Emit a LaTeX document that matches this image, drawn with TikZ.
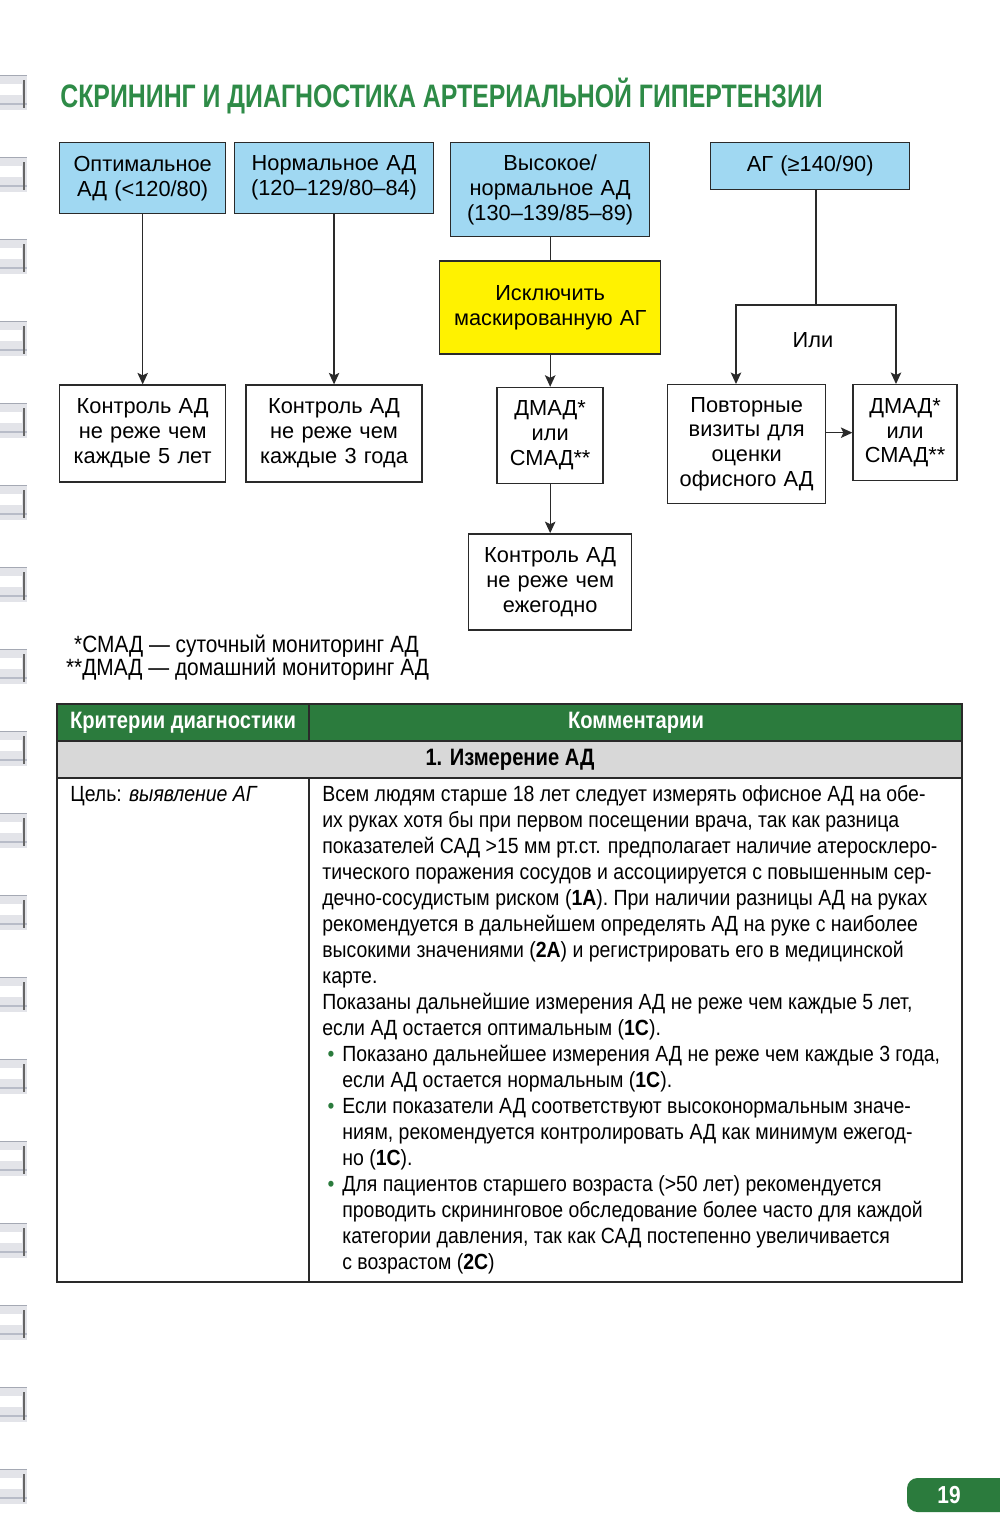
\documentclass[tikz,border=0pt]{standalone}
\usepackage{fontspec}
\setmainfont{Liberation Sans}
\newfontfamily\condfont[FakeStretch=0.886]{Liberation Sans}
\newfontfamily\headfont[FakeStretch=0.85]{Liberation Sans}
\newfontfamily\titlefont[FakeStretch=0.765]{Liberation Sans}
\usetikzlibrary{arrows.meta, positioning}
\definecolor{boxblue}{HTML}{A0D8F2}
\definecolor{boxyellow}{HTML}{FFF200}
\definecolor{titlegreen}{HTML}{2E8B47}
\definecolor{headgreen}{HTML}{2B7B3D}
\definecolor{rowgray}{HTML}{D8D8D8}
\definecolor{linegray}{HTML}{2A2A2A}
\definecolor{ringgray}{HTML}{B8BCC8}
\tikzstyle{block} = [rectangle, draw=linegray, line width=0.8pt, inner sep=0pt,
  align=center, font=\fontsize{12.4}{14.2}\selectfont]
\tikzstyle{bluebox} = [block, fill=boxblue]
\tikzstyle{yellowbox} = [block, fill=boxyellow]
\tikzstyle{whitebox} = [block, fill=white]
\tikzstyle{arrow} = [line width=0.75pt, draw=linegray, -{Stealth[length=2.3mm, width=2.1mm, inset=0.5mm]}]
\tikzstyle{line} = [line width=0.75pt, draw=linegray]
\tikzstyle{tabtext} = [inner sep=0pt, anchor=base west, font=\condfont\fontsize{12.5}{14.8}\selectfont]
\tikzstyle{tabhead} = [inner sep=0pt, font=\headfont\bfseries\fontsize{13.5}{14.8}\selectfont]
\newcommand{\bitem}{\hspace*{0.4cm}\llap{\textcolor{headgreen}{\textbullet}\hspace{0.16cm}}}
\newcommand{\bcont}{\hspace*{0.4cm}}

\begin{document}
\begin{tikzpicture}[x=0.02cm, y=-0.02cm]
    \useasboundingbox (0,0) rectangle (1000,1538);
    % binding rings
    \foreach \r in {0,...,17} {
      \fill[ringgray!40] (0,{75+82*\r}) rectangle (27,{110+82*\r});
      \fill[white] (0,{84+82*\r}) rectangle (22,{95+82*\r});
      \draw[ringgray!90!black, line width=0.5pt] (0,{75+82*\r}) -- (27,{75+82*\r});
      \draw[ringgray, line width=1.4pt] (0,{104+82*\r}) -- (27,{104+82*\r});
      \draw[gray!80!black, line width=0.6pt] (24,{80+82*\r}) -- (24,{108+82*\r});
    }
    \node[font=\titlefont\bfseries\fontsize{18.5}{20}\selectfont, text=titlegreen, inner sep=0pt,
      anchor=base west] (title) at (60,107) {СКРИНИНГ И ДИАГНОСТИКА АРТЕРИАЛЬНОЙ ГИПЕРТЕНЗИИ};

    % flowchart
    \node[bluebox, text width=3.32cm, minimum height=1.42cm, anchor=north west] (b1) at (59,142) {Оптимальное\\АД (<120/80)};
    \node[bluebox, text width=3.98cm, minimum height=1.42cm, right=0.15cm of b1.north east, anchor=north west] (b2) {Нормальное АД\\(120–129/80–84)};
    \node[bluebox, text width=3.98cm, minimum height=1.88cm, anchor=north west] (b3) at (450,142) {Высокое/\\нормальное АД\\(130–139/85–89)};
    \node[bluebox, text width=3.98cm, minimum height=0.94cm, anchor=north west] (b4) at (710,142) {АГ (≥140/90)};
    \node[yellowbox, text width=4.42cm, minimum height=1.86cm, below=0.46cm of b3] (y1) {Исключить\\маскированную АГ};
    \node[whitebox, text width=2.12cm, minimum height=1.92cm, below=0.64cm of y1] (d1) {ДМАД*\\или\\СМАД**};
    \node[whitebox, text width=3.26cm, minimum height=1.92cm, below=0.98cm of d1] (e1) {Контроль АД\\не реже чем\\ежегодно};
    \node[whitebox, text width=3.32cm, minimum height=1.94cm, below=3.4cm of b1] (c1) {Контроль АД\\не реже чем\\каждые 5 лет};
    \node[whitebox, text width=3.52cm, minimum height=1.94cm, below=3.4cm of b2] (c2) {Контроль АД\\не реже чем\\каждые 3 года};
    \node[whitebox, text width=3.16cm, minimum height=2.38cm, anchor=north west] (f1) at (667,384) {Повторные\\визиты для\\оценки\\офисного АД};
    \node[whitebox, text width=2.08cm, minimum height=1.92cm, right=0.52cm of f1.north east, anchor=north west] (f2) {ДМАД*\\или\\СМАД**};
    \node[font=\fontsize{12.4}{14.2}\selectfont, inner sep=0pt] (or) at (813,340) {Или};
    \coordinate (jn) at (816,305);
    \coordinate (jl) at (736,305);
    \coordinate (jr) at (896,305);

    \draw[arrow] (b1) -- (c1);
    \draw[arrow] (b2) -- (c2);
    \draw[line] (b3) -- (y1);
    \draw[arrow] (y1) -- (d1);
    \draw[arrow] (d1) -- (e1);
    \draw[line] (b4.south -| jn) -- (jn);
    \draw[arrow] (jn) -- (jl) -- (jl |- f1.north);
    \draw[arrow] (jn) -- (jr) -- (jr |- f2.north);
    \draw[arrow] (f1.east |- f2.west) -- (f2.west);

    % footnotes
    \node[tabtext, font=\condfont\fontsize{13.4}{14.8}\selectfont] (fn1) at (82,652) {\llap{*}СМАД — суточный мониторинг АД};
    \node[tabtext, font=\condfont\fontsize{13.4}{14.8}\selectfont] (fn2) at (82,675) {\llap{**}ДМАД — домашний мониторинг АД};

    % table
    \fill[headgreen] (57,704) rectangle (962,741);
    \fill[rowgray] (57,741) rectangle (962,778);
    \draw[linegray, line width=0.7pt] (57,704) rectangle (962,1282);
    \draw[linegray, line width=0.7pt] (57,741) -- (962,741);
    \draw[linegray, line width=0.7pt] (57,778) -- (962,778);
    \draw[linegray, line width=0.7pt] (309,704) -- (309,741);
    \draw[linegray, line width=0.7pt] (309,778) -- (309,1282);
    \node[tabhead, text=white] (h1) at (183,723) {Критерии диагностики};
    \node[tabhead, text=white] (h2) at (636,723) {Комментарии};
    \node[tabhead] (h3) at (510,760) {1. Измерение АД};
    \node[tabtext] (goal) at (70,801) {Цель: \textit{выявление АГ}};
    \foreach \txt [count=\i] in {
      {Всем людям старше 18 лет следует измерять офисное АД на обе-},
      {их руках хотя бы при первом посещении врача, так как разница},
      {показателей САД >15 мм рт.ст. предполагает наличие атеросклеро-},
      {тического поражения сосудов и ассоциируется с повышенным сер-},
      {дечно-сосудистым риском (\textbf{1A}). При наличии разницы АД на руках},
      {рекомендуется в дальнейшем определять АД на руке с наиболее},
      {высокими значениями (\textbf{2A}) и регистрировать его в медицинской},
      {карте.},
      {Показаны дальнейшие измерения АД не реже чем каждые 5 лет,},
      {если АД остается оптимальным (\textbf{1C}).},
      {\bitem Показано дальнейшее измерения АД не реже чем каждые 3 года,},
      {\bcont если АД остается нормальным (\textbf{1C}).},
      {\bitem Если показатели АД соответствуют высоконормальным значе-},
      {\bcont ниям, рекомендуется контролировать АД как минимум ежегод-},
      {\bcont но (\textbf{1C}).},
      {\bitem Для пациентов старшего возраста (>50 лет) рекомендуется},
      {\bcont проводить скрининговое обследование более часто для каждой},
      {\bcont категории давления, так как САД постепенно увеличивается},
      {\bcont с возрастом (\textbf{2C})}}
      \node[tabtext] (line\i) at (322,{801+26*(\i-1)}) {\txt};

    % page number
    \fill[headgreen, rounded corners=6pt] (907,1478) rectangle (1015,1512);
    \node[tabhead, text=white, font=\headfont\bfseries\fontsize{14}{16}\selectfont] (page) at (949,1495) {19};
  \end{tikzpicture}
\end{document}
